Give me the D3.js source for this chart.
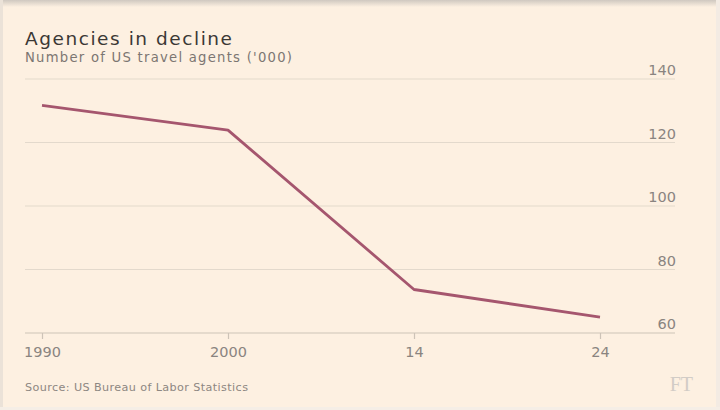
<!DOCTYPE html>
<html>
<head>
<meta charset="utf-8">
<script src="https://cdn.jsdelivr.net/npm/d3@7"></script>
<style>
  html, body { margin: 0; padding: 0; background: #fdf0e1; }
  svg { display: block; }
</style>
</head>
<body>
<svg id="chart" width="720" height="410"></svg>
<script>
const categories = ["1990", "2000", "14", "24"];
const agents = [131.7, 123.9, 73.7, 65.0];
const yTicks = [60, 80, 100, 120, 140];

const svg = d3.select("#chart");
const W = 720, H = 410;
const FONT = "'DejaVu Sans', sans-serif";

// background and frame
const defs = svg.append("defs");
const grad = defs.append("linearGradient").attr("id", "topShade").attr("x1", 0).attr("x2", 0).attr("y1", 0).attr("y2", 1);
grad.append("stop").attr("offset", "0%").attr("stop-color", "#cfc8c0");
grad.append("stop").attr("offset", "100%").attr("stop-color", "#fdf0e1");
svg.append("rect").attr("width", W).attr("height", H).attr("fill", "#fdf0e1");
svg.append("rect").attr("x", 0).attr("y", 0).attr("width", W).attr("height", 7).attr("fill", "url(#topShade)");
svg.append("rect").attr("x", 0).attr("y", 0).attr("width", 3).attr("height", H).attr("fill", "#ebe2d8");
svg.append("rect").attr("x", 716).attr("y", 0).attr("width", 4).attr("height", H).attr("fill", "#f3ebe3");
svg.append("rect").attr("x", 0).attr("y", 407).attr("width", W).attr("height", 3).attr("fill", "#f5eee6");

const x = d3.scalePoint().domain(categories).range([42, 600]).padding(0);
const y = d3.scaleLinear().domain([60, 140]).range([333, 79]);

// the reference uses a wide typeface: grow the font part way, then space to the target width
function fit(sel, width, maxSize) {
  const s = +sel.attr("font-size");
  const w = sel.node().getComputedTextLength();
  if (w > 0) {
    const ns = Math.min(maxSize, s * Math.sqrt(width / w));
    sel.attr("font-size", ns);
    sel.attr("textLength", width).attr("lengthAdjust", "spacing");
  }
  return sel;
}

// gridlines
svg.append("g").selectAll("line").data(yTicks.filter(d => d !== 60)).join("line")
  .attr("x1", 25).attr("x2", 675)
  .attr("y1", d => y(d)).attr("y2", d => y(d))
  .attr("stroke", "#e3d9cc").attr("stroke-width", 1.2);

// y labels
svg.append("g").selectAll("text").data(yTicks).join("text")
  .attr("x", 676).attr("y", d => y(d) - 4)
  .attr("text-anchor", "end")
  .style("font-family", FONT)
  .attr("font-size", 14.5).attr("fill", "#8a8480")
  .text(d => d);

// x axis
const xAxis = d3.axisBottom(x).tickSize(6).tickPadding(8);
const ax = svg.append("g").attr("transform", `translate(0,${y(60)})`).call(xAxis);
ax.select(".domain").remove();
ax.selectAll(".tick line").attr("stroke", "#cdc3b7").attr("stroke-width", 1.2);
ax.selectAll(".tick text").attr("font-size", 14.5).attr("fill", "#8a8480")
  .style("font-family", FONT).attr("dy", "0.71em");
ax.append("line").attr("x1", 25).attr("x2", 675).attr("y1", 0).attr("y2", 0)
  .attr("stroke", "#cdc3b7").attr("stroke-width", 1.2);

// line
const line = d3.line().x((d, i) => x(categories[i])).y(d => y(d));
svg.append("path").datum(agents)
  .attr("d", line)
  .attr("fill", "none")
  .attr("stroke", "#a5566e")
  .attr("stroke-width", 2.8)
  .attr("stroke-linejoin", "round");

// titles
fit(svg.append("text").attr("x", 25).attr("y", 44.5)
  .style("font-family", FONT)
  .attr("font-size", 17).attr("fill", "#3b3835")
  .text("Agencies in decline"), 207, 18.5);
fit(svg.append("text").attr("x", 25).attr("y", 61.5)
  .style("font-family", FONT)
  .attr("font-size", 12).attr("fill", "#7c7672")
  .text("Number of US travel agents ('000)"), 267, 13.2);

// source
fit(svg.append("text").attr("x", 25).attr("y", 390.5)
  .style("font-family", FONT)
  .attr("font-size", 10.5).attr("fill", "#8d8782")
  .text("Source: US Bureau of Labor Statistics"), 223, 11.5);

// FT logo
svg.append("text").attr("x", 693).attr("y", 390.5)
  .attr("text-anchor", "end")
  .style("font-family", "'Liberation Serif', serif")
  .attr("font-size", 20).attr("fill", "#d2ccc6")
  .text("FT");
</script>
</body>
</html>
